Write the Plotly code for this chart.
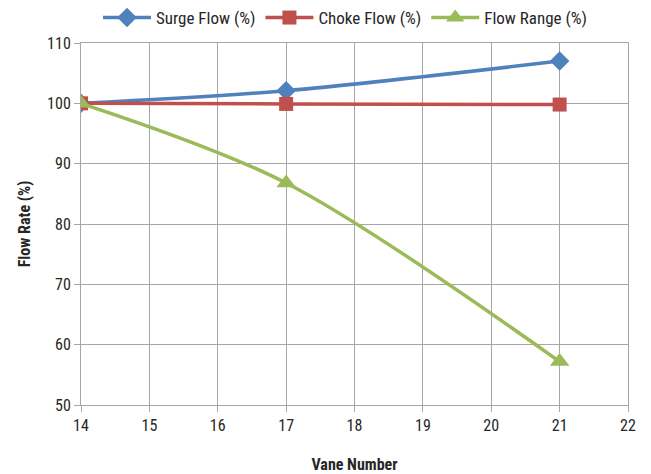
import plotly.graph_objects as go

vane = [14, 17, 21]
surge = [100, 102.1, 107.0]
choke = [100, 99.9, 99.8]
flow_range = [100, 86.8, 57.2]

FONT = "Liberation Sans Narrow, Roboto Condensed, Arial Narrow, Liberation Sans, sans-serif"

fig = go.Figure()
series = [
    ("Surge Flow (%)", surge, "#4f81bd", "diamond", 15),
    ("Choke Flow (%)", choke, "#c0504d", "square", 14),
    ("Flow Range (%)", flow_range, "#9bbb59", "triangle-up", 17),
]
for name, ys, col, sym, sz in series:
    fig.add_trace(go.Scatter(
        x=vane, y=ys, name=name, mode="lines+markers",
        line=dict(color=col, width=3.5, shape="spline", smoothing=0.9),
        marker=dict(symbol=sym, size=sz, color=col),
    ))

fig.update_layout(
    width=651, height=474,
    paper_bgcolor="white", plot_bgcolor="white",
    margin=dict(l=81, r=23, t=43, b=69, autoexpand=False),
    font=dict(family=FONT, size=16, color="#262626"),
    legend=dict(orientation="h", x=0.53, xanchor="center", xref="container",
                y=1.0, yanchor="top", yref="container",
                font=dict(size=17), itemwidth=48, tracegroupgap=0),
    xaxis=dict(range=[14, 22], dtick=1, showgrid=True, gridcolor="#a6a6a6", gridwidth=1,
               showline=True, linecolor="#a6a6a6", mirror=True, ticks="outside",
               ticklen=6, tickcolor="#a6a6a6", zeroline=False, automargin=False,
               title=dict(text="<b>Vane Number</b>", font=dict(size=16), standoff=25)),
    yaxis=dict(range=[50, 110], dtick=10, showgrid=True, gridcolor="#a6a6a6", gridwidth=1,
               showline=True, linecolor="#a6a6a6", mirror=True, ticks="outside",
               ticklen=6, tickcolor="#a6a6a6", zeroline=False, automargin=False,
               title=dict(text="<b>Flow Rate (%)</b>", font=dict(size=16), standoff=12)),
)

fig.write_html("out.html", config={"displayModeBar": False},
               post_script="document.body.style.margin='0';document.body.style.padding='0';")
